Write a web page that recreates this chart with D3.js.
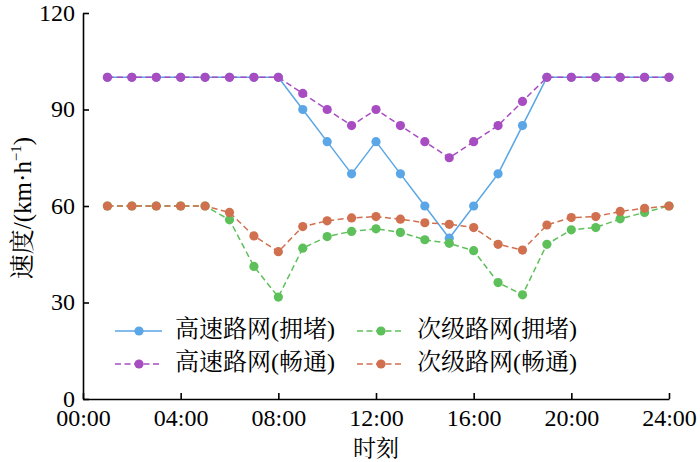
<!DOCTYPE html>
<html><head><meta charset="utf-8">
<script src="https://cdn.jsdelivr.net/npm/d3@7"></script>
<style>body{margin:0;background:#fff}</style>
</head><body>
<svg id="c" width="700" height="462"></svg>
<script>
const hours = d3.range(1, 25);
const hwCongested = [100,100,100,100,100,100,100,100,90,80,70,80,70,60,50,60,70,85,100,100,100,100,100,100];
const hwSmooth    = [100,100,100,100,100,100,100,100,95,90,85,90,85,80,75,80,85,92.5,100,100,100,100,100,100];
const secCongested= [60,60,60,60,60,55.7,41.2,31.7,46.9,50.5,52.1,52.9,51.8,49.5,48.4,46.1,36.2,32.4,48.1,52.6,53.3,56,58,60];
const secSmooth   = [60,60,60,60,60,58,50.7,45.8,53.6,55.4,56.3,56.7,55.9,54.8,54.3,53.3,48.1,46.3,54.1,56.4,56.7,58.3,59.3,60];
const seriesNames = ["高速路网(拥堵)","高速路网(畅通)","次级路网(拥堵)","次级路网(畅通)"];
const xTicks = [0,4,8,12,16,20,24];
const xTickLabels = ["00:00","04:00","08:00","12:00","16:00","20:00","24:00"];
const yTicks = [0,30,60,90,120];
const xTitle = "时刻";
const yTitle = "速度/(km·h⁻¹)";

const colors = ["#5aa6e6","#a84cc2","#5ec05a","#d0704e"];
const dashed = [false,true,true,true];
const seriesData = [hwCongested, hwSmooth, secCongested, secSmooth];

const svg = d3.select("#c");
const L=83, R=669, T=13, B=399;
const x = d3.scaleLinear().domain([0,24]).range([L,R]);
const y = d3.scaleLinear().domain([0,120]).range([B,T]);
const LAT = "Liberation Serif";
const CJK = "Noto Serif CJK SC";

function mixed(sel, str, size){
  const runs = str.match(/[\u3400-\u9fff]+|[^\u3400-\u9fff]+/g);
  runs.forEach(r=>{
    const isC = /[\u3400-\u9fff]/.test(r);
    sel.append("tspan").attr("font-family", isC?CJK:LAT).style("font-family", isC?CJK:LAT)
      .style("font-size", size+"px").text(r);
  });
}

const xAxis = svg.append("g").attr("transform",`translate(0,${B})`)
  .call(d3.axisBottom(x).tickValues(xTicks).tickFormat((d,i)=>xTickLabels[i]).tickSizeInner(-6).tickSizeOuter(0).tickPadding(8));
const yAxis = svg.append("g").attr("transform",`translate(${L},0)`)
  .call(d3.axisLeft(y).tickValues(yTicks).tickSizeInner(-6).tickSizeOuter(0).tickPadding(8));
[xAxis,yAxis].forEach(a=>{
  a.attr("font-family",LAT).attr("font-size",24);
  a.selectAll("path").attr("stroke","#000").attr("stroke-width",1.6);
  a.selectAll("line").attr("stroke","#000").attr("stroke-width",1.6);
  a.selectAll("text").attr("font-family",LAT).style("font-family",LAT).style("font-size","24px").attr("fill","#000");
});
xAxis.selectAll("text").attr("y",9).attr("dy","0.76em");
yAxis.selectAll("text").attr("x",-8).attr("dy","0.3em");

const line = d3.line().x((d,i)=>x(hours[i])).y(d=>y(d));
seriesData.forEach((s,k)=>{
  const g = svg.append("g");
  g.append("path").datum(s).attr("d",line).attr("fill","none")
    .attr("stroke",colors[k]).attr("stroke-width",1.5)
    .attr("stroke-dasharray",dashed[k]?"6,3.5":null);
  g.selectAll("circle").data(s).join("circle")
    .attr("cx",(d,i)=>x(hours[i])).attr("cy",d=>y(d)).attr("r",4.6).attr("fill",colors[k]);
});

const legPos = [[115,331],[115,364],[357,331],[357,364]];
seriesNames.forEach((n,k)=>{
  const [lx,ly] = legPos[k];
  const g = svg.append("g").attr("transform",`translate(${lx},${ly})`);
  g.append("line").attr("x1",0).attr("x2",47).attr("y1",0).attr("y2",0)
    .attr("stroke",colors[k]).attr("stroke-width",1.5)
    .attr("stroke-dasharray",dashed[k]?"6,3.5":null);
  g.append("circle").attr("cx",24).attr("cy",0).attr("r",4.6).attr("fill",colors[k]);
  const t = g.append("text").attr("x",60).attr("y",0).attr("dy","0.36em");
  mixed(t, n, 24);
});

const xt = svg.append("text").attr("x",(L+R)/2).attr("y",456).attr("text-anchor","middle");
mixed(xt, xTitle, 23);

const yt = svg.append("text").attr("transform","translate(31,208) rotate(-90)")
  .attr("text-anchor","middle");
const parts = yTitle.split("⁻¹");
mixed(yt, parts[0], 25);
yt.append("tspan").attr("font-family",LAT).style("font-family",LAT).style("font-size","15px").attr("dy",-10).text("−1");
yt.append("tspan").attr("font-family",LAT).style("font-family",LAT).style("font-size","25px").attr("dy",10).text(parts[1]);
</script>
</body></html>
